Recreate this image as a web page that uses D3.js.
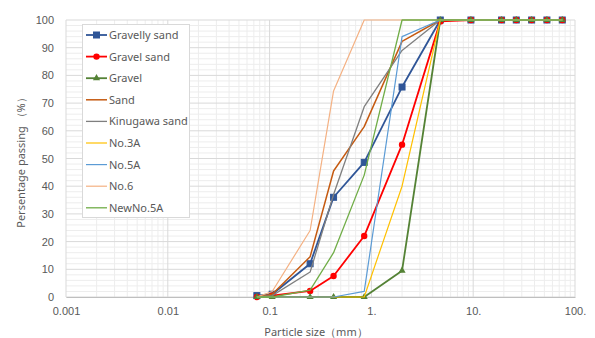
<!DOCTYPE html>
<html>
<head>
<meta charset="utf-8">
<script src="https://cdn.jsdelivr.net/npm/d3@7"></script>
<style>
  body { margin: 0; background: #fff; }
  svg { display: block; font-family: "Noto Sans", "Open Sans", sans-serif; }
</style>
</head>
<body>
<svg id="chart" width="595" height="338"></svg>
<script>
// ---- Data ----
const sieves = [0.075, 0.106, 0.25, 0.425, 0.85, 2, 4.75, 9.5, 19, 26.5, 37.5, 53, 75];
const seriesNames = ["Gravelly sand", "Gravel sand", "Gravel", "Sand", "Kinugawa sand", "No.3A", "No.5A", "No.6", "NewNo.5A"];
const gravellySand = [0.5, 1, 12, 36, 48.6, 75.8, 100, 100, 100, 100, 100, 100, 100];
const gravelSand   = [0, 0.5, 2.2, 7.6, 22, 55, 99.5, 100, 100, 100, 100, 100, 100];
const gravel       = [0, 0, 0, 0, 0, 9.5, 100, 100, 100, 100, 100, 100, 100];
const sand         = [0, 1, 14.5, 45.5, 61.5, 92.3, 100, 100, 100, 100, 100, 100, 100];
const kinugawa     = [0, 0.5, 9, 37, 68.7, 89, 100, 100, 100, 100, 100, 100, 100];
const no3A         = [0, 0, 0, 0, 0, 40, 100, 100, 100, 100, 100, 100, 100];
const no5A         = [0, 0, 0, 0, 2, 94, 100, 100, 100, 100, 100, 100, 100];
const no6          = [0, 2, 24, 74.4, 100, 100, 100, 100, 100, 100, 100, 100, 100];
const newNo5A      = [0, 0, 2.5, 16, 44, 100, 100, 100, 100, 100, 100, 100, 100];
const seriesValues = [gravellySand, gravelSand, gravel, sand, kinugawa, no3A, no5A, no6, newNo5A];
const xTickValues = [0.001, 0.01, 0.1, 1, 10, 100];
const xTickLabels = ["0.001", "0.01", "0.1", "1.", "10.", "100."];
const yTickValues = [0, 10, 20, 30, 40, 50, 60, 70, 80, 90, 100];

// ---- Styles ----
const colors  = ["#2F5597", "#FF0000", "#548235", "#C55A11", "#7F7F7F", "#FFC000", "#5B9BD5", "#F4B183", "#70AD47"];
const widths  = [1.8, 1.8, 1.8, 1.5, 1.3, 1.2, 1.2, 1.2, 1.3];
const markers = ["square", "circle", "triangle", null, null, null, null, null, null];

const svg = d3.select("#chart");
const L = 66, R = 575, T = 20, B = 297;
const x = d3.scaleLog().domain([0.001, 100]).range([L, R]);
const y = d3.scaleLinear().domain([0, 100]).range([B, T]);

// ---- Grid ----
const grid = svg.append("g");
// minor vertical
const minorX = [];
for (let e = -3; e < 2; e++) for (let m = 2; m <= 9; m++) minorX.push(m * Math.pow(10, e));
grid.selectAll(".mvx").data(minorX).enter().append("line")
  .attr("x1", d => x(d)).attr("x2", d => x(d)).attr("y1", T).attr("y2", B)
  .attr("stroke", "#EDEDED").attr("stroke-width", 1);
// minor horizontal
const minorY = d3.range(0, 101, 2).filter(v => v % 10 !== 0);
grid.selectAll(".mhy").data(minorY).enter().append("line")
  .attr("x1", L).attr("x2", R).attr("y1", d => y(d)).attr("y2", d => y(d))
  .attr("stroke", "#EDEDED").attr("stroke-width", 1);
// major
grid.selectAll(".Mvx").data(xTickValues).enter().append("line")
  .attr("x1", d => x(d)).attr("x2", d => x(d)).attr("y1", T).attr("y2", B)
  .attr("stroke", "#D9D9D9").attr("stroke-width", 1);
grid.selectAll(".Mhy").data(yTickValues).enter().append("line")
  .attr("x1", L).attr("x2", R).attr("y1", d => y(d)).attr("y2", d => y(d))
  .attr("stroke", "#D9D9D9").attr("stroke-width", 1);

// ---- Axes ----
const xAxis = d3.axisBottom(x).tickValues(xTickValues)
  .tickFormat((d, i) => xTickLabels[i]).tickSize(0).tickPadding(10);
const gx = svg.append("g").attr("transform", `translate(0,${B})`).call(xAxis);
gx.select(".domain").attr("stroke", "#BFBFBF");
gx.selectAll("text").attr("fill", "#595959").style("font-size", "11px");

const yAxis = d3.axisLeft(y).tickValues(yTickValues).tickSize(0).tickPadding(12);
const gy = svg.append("g").attr("transform", `translate(${L},0)`).call(yAxis);
gy.select(".domain").remove();
gy.selectAll("text").attr("fill", "#595959").style("font-size", "11px");

svg.append("text").attr("x", 316).attr("y", 336).attr("text-anchor", "middle")
  .attr("fill", "#595959").style("font-size", "11px").text("Particle size（mm）");
svg.append("text").attr("transform", "translate(25,160) rotate(-90)").attr("text-anchor", "middle")
  .attr("fill", "#595959").style("font-size", "11px").text("Persentage passing （%）");

// ---- Series ----
const line = d3.line().x(d => x(d[0])).y(d => y(d[1]));
function drawMarker(g, type, cx, cy, color) {
  if (type === "square") {
    g.append("rect").attr("x", cx - 3).attr("y", cy - 3).attr("width", 6).attr("height", 6)
      .attr("fill", color).attr("stroke", color);
  } else if (type === "circle") {
    g.append("circle").attr("cx", cx).attr("cy", cy).attr("r", 3.2).attr("fill", color);
  } else if (type === "triangle") {
    g.append("path").attr("d", d3.symbol(d3.symbolTriangle, 22)()).attr("transform", `translate(${cx},${cy})`)
      .attr("fill", color);
  }
}
const plot = svg.append("g");
seriesValues.forEach((vals, i) => {
  const pts = sieves.map((s, j) => [s, vals[j]]);
  const g = plot.append("g");
  g.append("path").attr("d", line(pts)).attr("fill", "none")
    .attr("stroke", colors[i]).attr("stroke-width", widths[i]).attr("stroke-linejoin", "round");
  if (markers[i]) pts.forEach(p => drawMarker(g, markers[i], x(p[0]), y(p[1]), colors[i]));
});

// ---- Legend ----
const lg = svg.append("g");
lg.append("rect").attr("x", 82.5).attr("y", 24.5).attr("width", 107).attr("height", 193)
  .attr("fill", "#fff").attr("stroke", "#D9D9D9");
seriesNames.forEach((name, i) => {
  const ly = 35 + i * 21.6;
  const g = lg.append("g");
  g.append("line").attr("x1", 86).attr("x2", 107).attr("y1", ly).attr("y2", ly)
    .attr("stroke", colors[i]).attr("stroke-width", widths[i]);
  if (markers[i]) drawMarker(g, markers[i], 96.5, ly, colors[i]);
  g.append("text").attr("x", 109).attr("y", ly + 4).attr("fill", "#595959")
    .style("font-size", "11px").text(name);
});
</script>
</body>
</html>
